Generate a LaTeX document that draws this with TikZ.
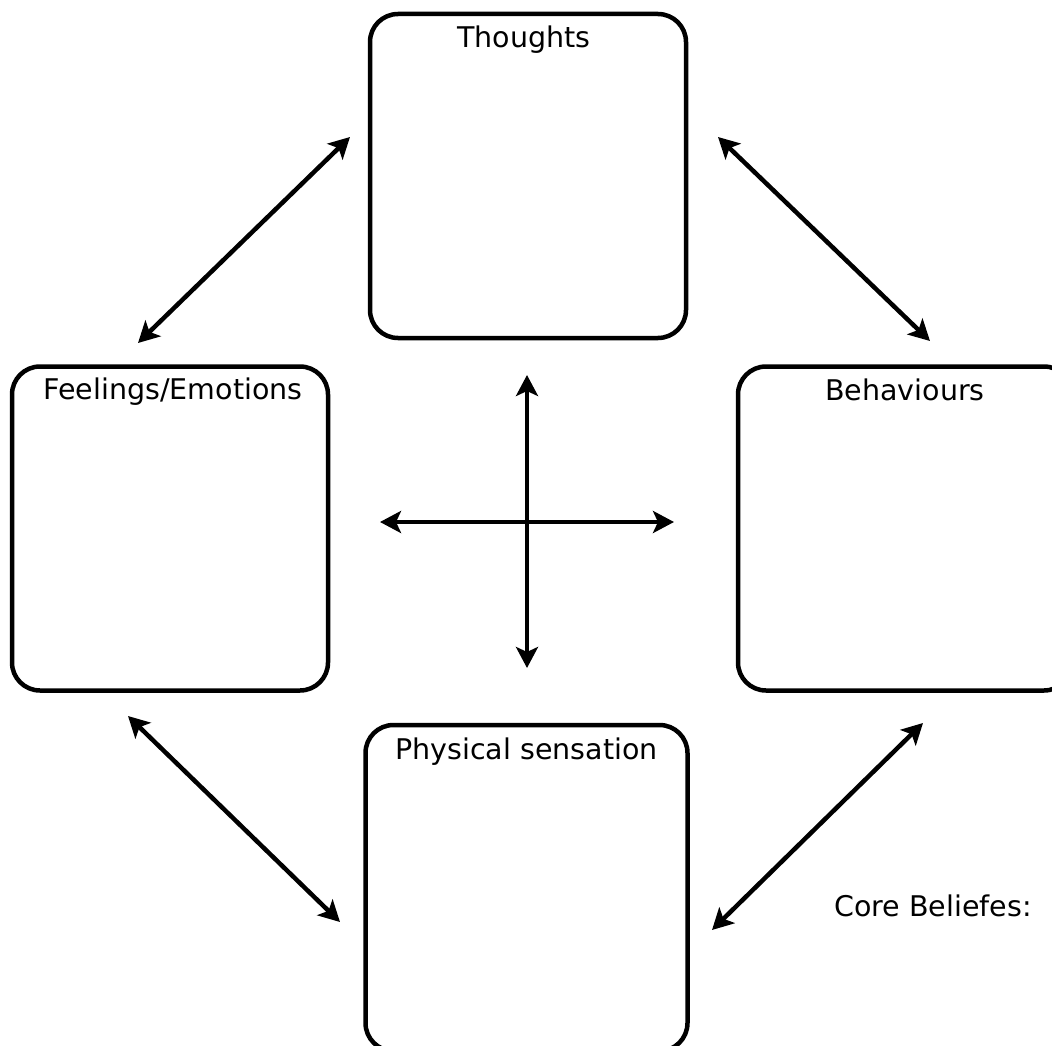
\documentclass[tikz,border=0pt]{standalone}
\usepackage{fontspec}
\setmainfont{DejaVu Sans}
\usetikzlibrary{arrows.meta, positioning}
\tikzstyle{frame} = [rectangle, rounded corners=28pt, draw=black, line width=4.5pt, inner sep=0pt, minimum width=316pt, minimum height=324pt]
\tikzstyle{tag} = [inner sep=0pt, font=\fontsize{28.5}{34}\selectfont, anchor=base]
\tikzstyle{arrow} = [line width=4.5pt, {Stealth[length=21pt,width=22pt,inset=5pt]}-{Stealth[length=21pt,width=22pt,inset=5pt]}]

\begin{document}
\begin{tikzpicture}[x=1pt, y=-1pt]
                \useasboundingbox (0,0) rectangle (1052,1046);
                \node (thoughts) [frame] at (528,176) {};
                \node (feelings) [frame] at (170,528.5) {};
                \node (behaviours) [frame, minimum width=334pt] at (905,528.5) {};
                \node (physical) [frame, minimum width=322pt, minimum height=326pt] at (526.5,888) {};

                \node (thoughtsl) [tag] at ([xshift=-4pt, yshift=-36pt]thoughts.north) {Thoughts};
                \node (feelingsl) [tag] at ([xshift=3pt, yshift=-35pt]feelings.north) {Feelings/Emotions};
                \node (behavioursl) [tag] at ([yshift=-36pt]behaviours.north) {Behaviours};
                \node (physicall) [tag] at ([yshift=-37pt]physical.north) {Physical sensation};
                \node (core) [tag] at (933,916) {Core Beliefes:};

%                arrow ends
                \coordinate (ft1) at (138,343);
                \coordinate (ft2) at (350,137);
                \coordinate (tb1) at (718,137);
                \coordinate (tb2) at (930,341);
                \coordinate (fp1) at (128,716);
                \coordinate (fp2) at (340,922);
                \coordinate (pb1) at (712,930);
                \coordinate (pb2) at (923,723);
                \coordinate (west) at (380,522);
                \coordinate (east) at (674,522);
                \coordinate (north) at (527,375);
                \coordinate (south) at (527,668);

                \draw [arrow] (ft1) -- (ft2);
                \draw [arrow] (tb1) -- (tb2);
                \draw [arrow] (fp1) -- (fp2);
                \draw [arrow] (pb1) -- (pb2);
                \draw [arrow] (west) -- (east);
                \draw [arrow] (north) -- (south);
\end{tikzpicture}
\end{document}
